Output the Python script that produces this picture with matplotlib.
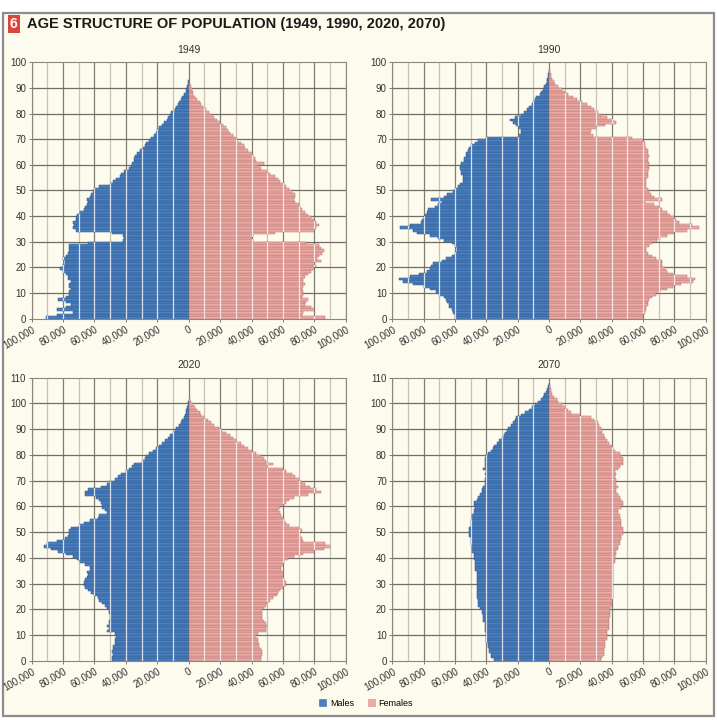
import numpy as np
import matplotlib
matplotlib.use("Agg")
import matplotlib.pyplot as plt
from matplotlib.patches import Polygon, Rectangle, Patch
from matplotlib.collections import LineCollection
from matplotlib.ticker import FuncFormatter, MultipleLocator

# population by single year of age, in thousands
years = ["1949", "1990", "2020", "2070"]

males_1949 = [91, 84, 74, 84, 78, 75, 78, 83, 78, 76, 76, 75, 76, 76, 75, 77, 77, 78, 80, 82,
              80, 79, 79, 80, 78, 77, 76, 76, 76, 64, 42, 41, 42, 49, 72, 74, 73, 74, 72, 72,
              71, 69, 67, 66, 65, 64, 65, 63, 62, 61, 60, 57, 50, 48, 46, 44, 43, 41, 38, 37,
              36, 35, 35, 34, 33, 31, 29, 28, 27, 25, 24, 22, 21, 20, 19, 17, 16, 14, 13, 12,
              11, 9, 8, 7, 6, 5, 4, 3, 2, 1.5, 1, 0.5, 0.3]
females_1949 = [87, 72, 73, 80, 78, 74, 75, 76, 72, 73, 73, 72, 73, 74, 73, 73, 74, 76, 78, 80,
                81, 79, 84, 82, 83, 85, 86, 84, 83, 75, 41, 40, 41, 55, 80, 81, 83, 81, 80, 78,
                76, 74, 72, 71, 70, 68, 67, 68, 68, 66, 64, 62, 61, 58, 57, 55, 52, 50, 46, 44,
                48, 43, 42, 41, 40, 38, 36, 35, 33, 31, 30, 28, 26, 25, 24, 22, 20, 18, 16, 14,
                13, 11, 9, 8, 7, 5, 4, 3, 2.5, 2, 1.5, 1, 0.5]

males_1990 = [60, 60, 61, 62, 64, 64, 65, 66, 67, 70, 72, 76, 80, 87, 93, 96, 89, 83, 78, 76,
              75, 74, 68, 66, 62, 60, 59, 59, 60, 62, 67, 71, 76, 84, 87, 95, 89, 82, 81, 80,
              79, 78, 77, 73, 71, 68, 75, 67, 65, 61, 60, 58, 57, 55, 55, 55, 56, 56, 57, 57,
              56, 54, 54, 53, 53, 52, 51, 50, 47, 45, 40, 19, 18, 18, 19, 21, 23, 25, 22, 18,
              16, 14, 13, 11, 10, 9, 8, 6, 5, 4, 3, 2, 1.5, 1, 0.6, 0.4, 0.2]
females_1990 = [60, 60, 61, 62, 62, 63, 63, 64, 66, 68, 71, 75, 79, 84, 92, 93, 88, 79, 75, 74,
                72, 72, 72, 68, 66, 63, 62, 62, 64, 66, 69, 71, 75, 80, 88, 96, 91, 83, 81, 80,
                77, 75, 72, 70, 67, 61, 72, 67, 65, 64, 63, 62, 62, 62, 62, 63, 63, 63, 64, 64,
                64, 63, 63, 64, 63, 63, 62, 61, 61, 60, 53, 28, 26, 27, 30, 36, 43, 41, 37, 33,
                31, 29, 27, 24, 21, 18, 15, 12, 10, 8, 6, 4, 3, 2, 1.5, 1, 0.5]

males_2020 = [49, 49, 48, 49, 48, 48, 47, 47, 47, 46, 47, 52, 51, 52, 51, 51, 50, 50, 51, 51,
              52, 53, 55, 57, 58, 60, 62, 64, 66, 67, 67, 66, 65, 64, 65, 63, 63, 66, 69, 71,
              74, 78, 83, 88, 92, 90, 84, 79, 77, 76, 76, 75, 70, 67, 63, 58, 57, 52, 53, 55,
              55, 56, 57, 59, 66, 66, 64, 56, 52, 50, 47, 45, 43, 40, 38, 36, 35, 30, 28, 27,
              25, 23, 21, 19, 17, 15, 13, 12, 10, 9, 8, 6, 5, 4, 3, 2.5, 2, 1.5, 1, 0.6, 0.3]
females_2020 = [46, 46, 47, 47, 46, 45, 45, 44, 44, 43, 44, 49, 49, 50, 49, 48, 47, 47, 47, 47,
                48, 49, 50, 52, 54, 56, 57, 58, 60, 62, 62, 61, 60, 60, 60, 59, 59, 60, 61, 63,
                67, 73, 80, 86, 90, 87, 73, 72, 71, 71, 72, 70, 64, 62, 61, 60, 59, 58, 57, 58,
                60, 62, 64, 67, 76, 84, 81, 77, 74, 72, 70, 68, 66, 62, 60, 50, 54, 49, 48, 46,
                43, 40, 38, 35, 33, 30, 28, 26, 24, 21, 19, 16, 14, 12, 10, 8, 7, 5, 4, 2.5,
                1.5, 0.7]

males_2070 = [35, 37, 37, 38, 38, 39, 39, 40, 40, 40, 40, 41, 41, 41, 41, 42, 42, 42, 43, 43,
              44, 45, 45, 45, 46, 46, 46, 46, 46, 46, 46, 46, 46, 46, 46, 47, 47, 47, 47, 48,
              48, 48, 49, 49, 49, 50, 50, 50, 51, 51, 51, 51, 50, 50, 50, 49, 49, 48, 48, 47,
              48, 48, 46, 45, 44, 43, 43, 42, 41, 41, 41, 40, 41, 40, 42, 41, 41, 41, 41, 40,
              39, 37, 36, 35, 33, 32, 30, 29, 28, 27, 26, 24, 23, 22, 21, 18, 15, 13, 11, 9,
              7, 5, 4, 3, 2, 1, 0.6, 0.3]
females_2070 = [33, 34, 35, 35, 35, 36, 36, 36, 37, 37, 37, 37, 38, 38, 38, 38, 38, 39, 39, 39,
                39, 40, 40, 40, 41, 41, 41, 41, 41, 41, 41, 41, 41, 41, 41, 41, 41, 41, 42, 42,
                42, 43, 43, 44, 44, 45, 45, 46, 46, 47, 47, 47, 46, 46, 46, 45, 45, 44, 44, 46,
                47, 47, 46, 45, 44, 43, 43, 44, 43, 43, 43, 42, 43, 42, 44, 45, 47, 47, 47, 46,
                45, 42, 41, 40, 38, 37, 36, 35, 34, 34, 33, 32, 31, 29, 27, 20, 14, 12, 10, 8,
                6, 5, 3, 2, 1.5, 1, 0.5]

males = [males_1949, males_1990, males_2020, males_2070]
females = [females_1949, females_1990, females_2020, females_2070]
age_max = [100, 100, 110, 110]

BLUE = "#4a80c2"
PINK = "#f2a9a4"
BG = "#fdfaee"

plt.rcParams['font.family'] = ['Liberation Sans', 'DejaVu Sans']

fig = plt.figure(figsize=(7.17, 7.2), dpi=100)
fig.patch.set_facecolor("white")
W, H = 717, 720

# cream panel with grey frame
frame = Rectangle((3 / W, 1 - 716 / H), 711 / W, 703 / H, transform=fig.transFigure,
                  facecolor=BG, edgecolor="#8c8c8c", linewidth=1.6, zorder=-10)
fig.add_artist(frame)

fig.text(10 / W, 1 - 24 / H, "6", color="white", fontsize=10, fontweight="bold", va="center",
         bbox=dict(boxstyle="square,pad=0.15", facecolor="#d8473e", edgecolor="none"))
fig.text(27 / W, 1 - 24 / H, "AGE STRUCTURE OF POPULATION (1949, 1990, 2020, 2070)",
         fontsize=10.5, fontweight="bold", color="#1a1a1a", va="center")

# axes boxes in pixels: left, top, right, bottom
boxes = [(31.7, 62.3, 345.7, 318.7), (392.3, 62.3, 705.7, 318.7),
         (31.7, 377.7, 345.7, 660.7), (392.3, 377.7, 705.7, 660.7)]

tick_fmt = FuncFormatter(lambda v, p: f"{abs(int(round(v))):,}")
narrow = ['Liberation Sans Narrow', 'Liberation Sans', 'DejaVu Sans']


def outline(vals, sign):
    pts = [(0, 0)]
    for i, v in enumerate(vals):
        pts.append((sign * v * 1000, i))
        pts.append((sign * v * 1000, i + 1))
    pts.append((0, len(vals)))
    return np.array(pts)


for k in range(4):
    l, t, r, b = boxes[k]
    ax = fig.add_axes([l / W, 1 - b / H, (r - l) / W, (b - t) / H])
    ax.set_facecolor(BG)
    m = np.array(males[k]) * 1000
    f = np.array(females[k]) * 1000
    ax.barh(np.arange(len(m)), -m, height=1, align="edge", color=BLUE,
            edgecolor="#2e5585", linewidth=0.35, zorder=2)
    ax.barh(np.arange(len(f)), f, height=1, align="edge", color=PINK,
            edgecolor="#a87470", linewidth=0.35, zorder=2)

    ax.set_xlim(-100000, 100000)
    ax.set_ylim(0, age_max[k])

    # background grid
    for x in range(-100000, 100001, 10000):
        major = (x // 10000) % 2 == 0
        ax.axvline(x, color="#7f7c72" if major else "#c9c2ae", linewidth=0.9, zorder=1)
    for y in range(10, age_max[k], 10):
        ax.axhline(y, color="#6f6d66", linewidth=0.9, zorder=1)

    # light grid lines showing through the bars
    segs = [[(x, 0), (x, age_max[k])] for x in range(-90000, 90001, 10000) if x != 0]
    for vals, sign in ((males[k], -1), (females[k], 1)):
        clip = Polygon(outline(vals, sign), closed=True, transform=ax.transData,
                       facecolor="none", edgecolor="none")
        ax.add_patch(clip)
        lc = LineCollection(segs, colors="#f4f4f4", linewidths=0.9, alpha=0.85, zorder=3)
        ax.add_collection(lc)
        lc.set_clip_path(clip)

    ax.xaxis.set_major_locator(MultipleLocator(20000))
    ax.xaxis.set_major_formatter(tick_fmt)
    ax.yaxis.set_major_locator(MultipleLocator(10))
    ax.tick_params(axis="both", length=2.5, width=0.6, color="#666666", labelsize=7,
                   labelcolor="#333333", pad=1.5)
    for lab in ax.get_xticklabels():
        lab.set_rotation(30)
        lab.set_ha("right")
        lab.set_rotation_mode("anchor")
        lab.set_family(narrow)
    for lab in ax.get_yticklabels():
        lab.set_family(narrow)
    for sp in ax.spines.values():
        sp.set_color("#8a877d")
        sp.set_linewidth(0.8)
    ax.set_title(years[k], fontsize=7.5, color="#333333", pad=7, family=narrow)

handles = [Patch(facecolor=BLUE, edgecolor="#3a6aa5", linewidth=0.4, label="Males"),
           Patch(facecolor=PINK, edgecolor="#d08c88", linewidth=0.4, label="Females")]
fig.legend(handles=handles, loc="center", bbox_to_anchor=(366 / W, 1 - 703 / H), ncol=2,
           frameon=False, handlelength=0.8, handleheight=0.8, handletextpad=0.4,
           columnspacing=1.5, prop={'family': narrow, 'size': 6.5})

fig.savefig("out.png", dpi=100, facecolor="white")
